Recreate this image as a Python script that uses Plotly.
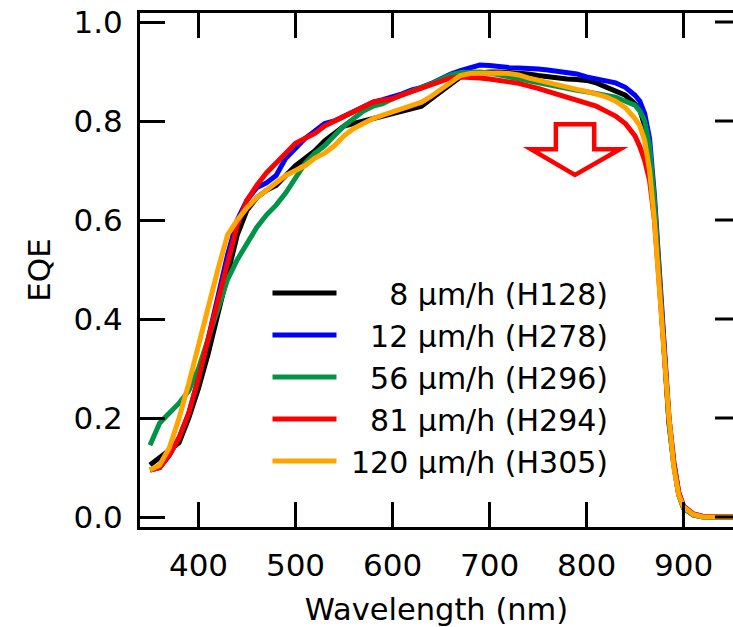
import plotly.graph_objects as go

wavelength = [350, 360, 370, 380, 390, 400, 410, 420, 430, 440, 450, 460, 470, 480, 490,
              500, 510, 520, 530, 540, 550, 560, 570, 580, 590, 600, 610, 620, 630, 640,
              650, 660, 670, 680, 690, 700, 710, 720, 730, 740, 750, 760, 770, 780, 790,
              800, 810, 820, 830, 840, 850, 855, 860, 865, 870, 875, 880, 885, 890, 895,
              900, 910, 920, 930, 940, 950, 960]

eqe_h128 = [0.105, 0.12, 0.135, 0.15, 0.20, 0.26, 0.33, 0.41, 0.50, 0.57, 0.62, 0.645, 0.66, 0.67, 0.69,
            0.71, 0.725, 0.74, 0.76, 0.775, 0.79, 0.795, 0.80, 0.805, 0.81, 0.815, 0.82, 0.825, 0.83, 0.845,
            0.86, 0.875, 0.889, 0.895, 0.898, 0.899, 0.899, 0.898, 0.897, 0.895, 0.892, 0.889, 0.887, 0.885, 0.884,
            0.882, 0.877, 0.869, 0.862, 0.852, 0.835, 0.822, 0.79, 0.74, 0.63, 0.49, 0.32, 0.19, 0.105, 0.045,
            0.018, 0.004, 0.0, 0.0, 0.0, 0.0, 0.0]

eqe_h278 = [0.095, 0.10, 0.125, 0.16, 0.21, 0.28, 0.36, 0.45, 0.53, 0.60, 0.64, 0.665, 0.675, 0.69, 0.725,
            0.745, 0.765, 0.78, 0.795, 0.80, 0.81, 0.82, 0.83, 0.838, 0.843, 0.848, 0.855, 0.863, 0.868, 0.876,
            0.886, 0.895, 0.902, 0.908, 0.913, 0.912, 0.909, 0.908, 0.907, 0.907, 0.905, 0.903, 0.90, 0.898, 0.895,
            0.889, 0.885, 0.881, 0.877, 0.868, 0.852, 0.84, 0.815, 0.765, 0.65, 0.50, 0.33, 0.20, 0.11, 0.05,
            0.022, 0.006, 0.001, 0.0, 0.0, 0.0, 0.0]

eqe_h296 = [0.145, 0.19, 0.21, 0.23, 0.255, 0.30, 0.36, 0.42, 0.48, 0.52, 0.555, 0.585, 0.61, 0.63, 0.655,
            0.685, 0.715, 0.735, 0.75, 0.77, 0.79, 0.805, 0.82, 0.83, 0.835, 0.845, 0.853, 0.862, 0.868, 0.875,
            0.885, 0.893, 0.898, 0.899, 0.899, 0.897, 0.893, 0.889, 0.885, 0.88, 0.877, 0.873, 0.87, 0.866, 0.862,
            0.859, 0.855, 0.851, 0.848, 0.84, 0.832, 0.82, 0.80, 0.75, 0.64, 0.49, 0.32, 0.19, 0.105, 0.045,
            0.018, 0.004, 0.0, 0.0, 0.0, 0.0, 0.0]

eqe_h294 = [0.095, 0.10, 0.125, 0.16, 0.21, 0.28, 0.36, 0.44, 0.52, 0.59, 0.64, 0.67, 0.695, 0.715, 0.735,
            0.755, 0.765, 0.775, 0.79, 0.80, 0.81, 0.82, 0.83, 0.838, 0.842, 0.845, 0.853, 0.86, 0.866, 0.872,
            0.88, 0.887, 0.889, 0.889, 0.887, 0.885, 0.883, 0.879, 0.876, 0.872, 0.866, 0.86, 0.854, 0.846, 0.842,
            0.836, 0.83, 0.82, 0.81, 0.795, 0.77, 0.748, 0.72, 0.68, 0.60, 0.47, 0.32, 0.20, 0.11, 0.05,
            0.022, 0.006, 0.001, 0.0, 0.0, 0.0, 0.0]

eqe_h305 = [0.095, 0.105, 0.14, 0.20, 0.27, 0.35, 0.43, 0.50, 0.57, 0.60, 0.625, 0.645, 0.66, 0.675, 0.69,
            0.70, 0.71, 0.725, 0.735, 0.75, 0.77, 0.785, 0.795, 0.805, 0.812, 0.818, 0.824, 0.83, 0.838, 0.85,
            0.865, 0.88, 0.892, 0.896, 0.897, 0.897, 0.897, 0.896, 0.893, 0.887, 0.882, 0.877, 0.872, 0.868, 0.864,
            0.86, 0.855, 0.849, 0.84, 0.827, 0.805, 0.79, 0.76, 0.70, 0.60, 0.48, 0.33, 0.20, 0.10, 0.045,
            0.02, 0.005, 0.0, 0.0, 0.0, 0.0, 0.0]

NB = "\u00a0"
series_names = [NB * 5 + "8 \u03bcm/h (H128)",
                NB * 3 + "12 \u03bcm/h (H278)",
                NB * 3 + "56 \u03bcm/h (H296)",
                NB * 3 + "81 \u03bcm/h (H294)",
                NB + "120 \u03bcm/h (H305)"]
series_values = [eqe_h128, eqe_h278, eqe_h296, eqe_h294, eqe_h305]
series_colors = ["#000000", "#0000FF", "#009448", "#FF0000", "#FFA500"]

y_tick_vals = [0.0, 0.2, 0.4, 0.6, 0.8, 1.0]
y_tick_text = ["0.0", "0.2", "0.4", "0.6", "0.8", "1.0"]
x_tick_vals = [400, 500, 600, 700, 800, 900]

FONT = "DejaVu Sans, sans-serif"

fig = go.Figure()
for name, vals, col in zip(series_names, series_values, series_colors):
    fig.add_trace(go.Scatter(x=wavelength, y=vals, mode="lines", name=name,
                             line=dict(color=col, width=5)))

fig.update_layout(
    width=733, height=627,
    margin=dict(l=140, r=0, t=13, b=100),
    paper_bgcolor="white", plot_bgcolor="white",
    font=dict(family=FONT, size=31, color="black"),
    showlegend=True,
    legend=dict(x=0.215, y=0.506, xanchor="left", yanchor="top",
                bgcolor="rgba(0,0,0,0)", borderwidth=0,
                font=dict(size=30, family=FONT), itemwidth=64,
                tracegroupgap=0),
    xaxis=dict(range=[339.7, 951], tickvals=x_tick_vals, ticks="inside", ticklen=25,
               tickwidth=3, tickcolor="black", showline=True, linewidth=3, linecolor="black",
               mirror="ticks", showgrid=False, zeroline=False, ticklabelstandoff=9,
               tickfont=dict(size=31, family=FONT),
               title=dict(text=NB * 2 + "Wavelength (nm)", font=dict(size=30.5, family=FONT),
                          standoff=20)),
    yaxis=dict(range=[-0.0202, 1.0182], tickvals=y_tick_vals, ticktext=y_tick_text,
               ticks="inside", ticklen=25, tickwidth=3, tickcolor="black",
               showline=True, linewidth=3, linecolor="black", mirror=False,
               showgrid=False, zeroline=False, ticklabelstandoff=8,
               tickfont=dict(size=31, family=FONT),
               title=dict(text="EQE", font=dict(size=31, family=FONT), standoff=14)),
)

# right-hand axis ticks (axis line lies just outside the visible area)
for v in y_tick_vals:
    fig.add_shape(type="line", xref="paper", yref="y", x0=0.9696, x1=1.02, y0=v, y1=v,
                  line=dict(color="black", width=3))

# hollow red arrow
fig.add_shape(type="path", xref="x", yref="y",
              path="M 768.4 0.7935 L 807.9 0.7935 L 807.9 0.743 L 834.5 0.743 "
                   "L 788.1 0.691 L 742.8 0.743 L 768.4 0.743 Z",
              line=dict(color="#FF0000", width=4.5), fillcolor="rgba(0,0,0,0)")

fig.write_html("out.html")
